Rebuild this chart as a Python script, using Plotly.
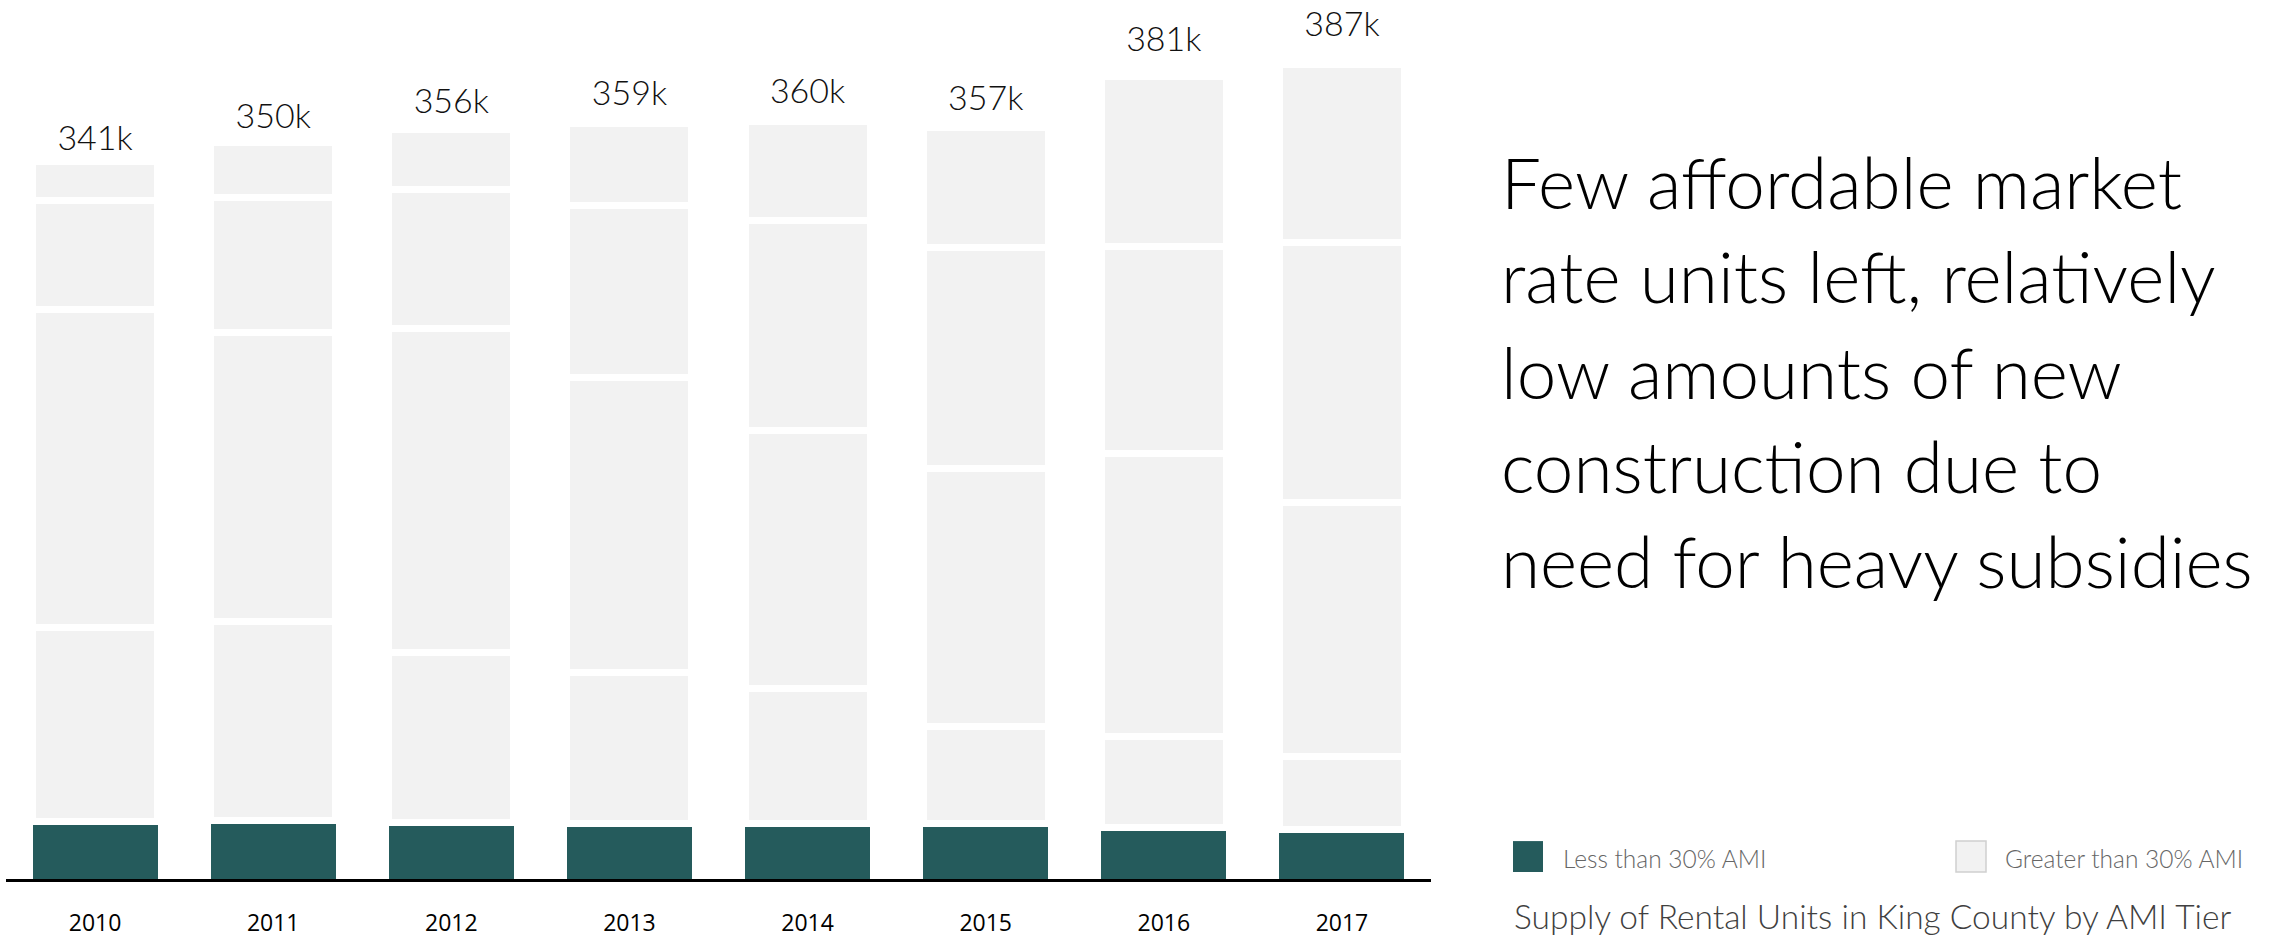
import plotly.graph_objects as go

# ---- data (thousands of rental units) ----
years = ["2010", "2011", "2012", "2013", "2014", "2015", "2016", "2017"]
less_than_30 = [27.5, 27.6, 26.9, 26.2, 26.5, 26.3, 24.5, 23.4]
tier_30_50 = [92.0, 94.7, 80.8, 72.1, 64.1, 46.3, 43.4, 34.7]
tier_50_80 = [151.0, 137.5, 154.0, 139.8, 122.3, 122.3, 134.1, 120.7]
tier_80_100 = [51.9, 64.1, 65.7, 82.0, 99.8, 105.2, 98.6, 123.5]
tier_above_100 = [18.6, 26.1, 28.6, 38.9, 47.3, 56.9, 80.4, 84.7]
totals = [341, 350, 356, 359, 360, 357, 381, 387]
total_labels = ["341k", "350k", "356k", "359k", "360k", "357k", "381k", "387k"]

title_lines = [
    "Few affordable market",
    "rate units left, relatively",
    "low amounts of new",
    "construction due to",
    "need for heavy subsidies",
]

light_series = [
    ("30-50% AMI", tier_30_50),
    ("50-80% AMI", tier_50_80),
    ("80-100% AMI", tier_80_100),
    ("Above 100% AMI", tier_above_100),
]

DARK = "#255b5c"
LIGHT = "#f2f2f2"

W, H = 2274, 938
ML, MR, MT, MB = 6, 843, 0, 57
PW = W - ML - MR
PH = H - MT - MB


def px2x(px):
    return (px - ML) / PW


def px2y(py):
    return (H - MB - py) / PH


fig = go.Figure()
fig.add_trace(go.Bar(
    x=years, y=less_than_30, name="Less than 30% AMI",
    marker=dict(color=DARK, line=dict(width=0)), showlegend=False,
))
for name, vals in light_series:
    fig.add_trace(go.Bar(
        x=years, y=vals, name=name,
        marker=dict(color=LIGHT, line=dict(color="white", width=7)),
        showlegend=False,
    ))

# total labels live on their own (hidden) secondary axis, as in the original
fig.add_trace(go.Scatter(
    x=years, y=totals, mode="text", text=total_labels, yaxis="y2",
    textposition="middle center", cliponaxis=False, showlegend=False,
    textfont=dict(family="Lato", size=34, weight=300, color="#111111"),
    hoverinfo="skip",
))

annotations = []
line_centers = [182, 276.5, 372, 467, 562]
for txt, cy in zip(title_lines, line_centers):
    annotations.append(dict(
        text=txt, x=px2x(1499), y=px2y(cy), xref="paper", yref="paper",
        xanchor="left", yanchor="middle", align="left", showarrow=False,
        font=dict(family="Lato", size=71, weight=300, color="#000000"),
    ))

annotations += [
    dict(
        text="Less than 30% AMI", x=px2x(1561), y=px2y(860),
        xref="paper", yref="paper", xanchor="left", yanchor="middle",
        showarrow=False,
        font=dict(family="Lato", size=24.5, weight=300, color="#666666"),
    ),
    dict(
        text="Greater than 30% AMI", x=px2x(2003), y=px2y(860),
        xref="paper", yref="paper", xanchor="left", yanchor="middle",
        showarrow=False,
        font=dict(family="Lato", size=24.5, weight=300, color="#666666"),
    ),
    dict(
        text="Supply of Rental Units in King County by AMI Tier",
        x=px2x(1512), y=px2y(918), xref="paper", yref="paper",
        xanchor="left", yanchor="middle", showarrow=False,
        font=dict(family="Lato", size=33.5, weight=300, color="#404040"),
    ),
]

shapes = [
    dict(type="rect", xref="paper", yref="paper",
         x0=px2x(1513), x1=px2x(1543), y0=px2y(874), y1=px2y(843),
         fillcolor=DARK, line=dict(width=0)),
    dict(type="rect", xref="paper", yref="paper",
         x0=px2x(1956), x1=px2x(1986), y0=px2y(874), y1=px2y(843),
         fillcolor=LIGHT, line=dict(color="#d0d0d0", width=1.5)),
]

fig.update_layout(
    width=W, height=H,
    margin=dict(l=ML, r=MR, t=MT, b=MB, pad=0),
    barmode="stack", bargap=0.298,
    plot_bgcolor="white", paper_bgcolor="white",
    xaxis=dict(
        type="category", range=[-0.5, 7.5], showline=True, linecolor="black",
        linewidth=3, ticks="", showgrid=False, zeroline=False,
        tickfont=dict(family="Open Sans", size=23, color="#000000"),
        ticklabelstandoff=21,
    ),
    yaxis=dict(range=[0, 417.5], visible=False, showgrid=False, zeroline=False),
    yaxis2=dict(range=[44.2, 398.0], overlaying="y", visible=False,
                showgrid=False, zeroline=False),
    annotations=annotations, shapes=shapes,
    showlegend=False,
)

fig.write_html(
    "out.html",
    config={"displayModeBar": False},
    post_script="document.body.style.margin='0';",
)
